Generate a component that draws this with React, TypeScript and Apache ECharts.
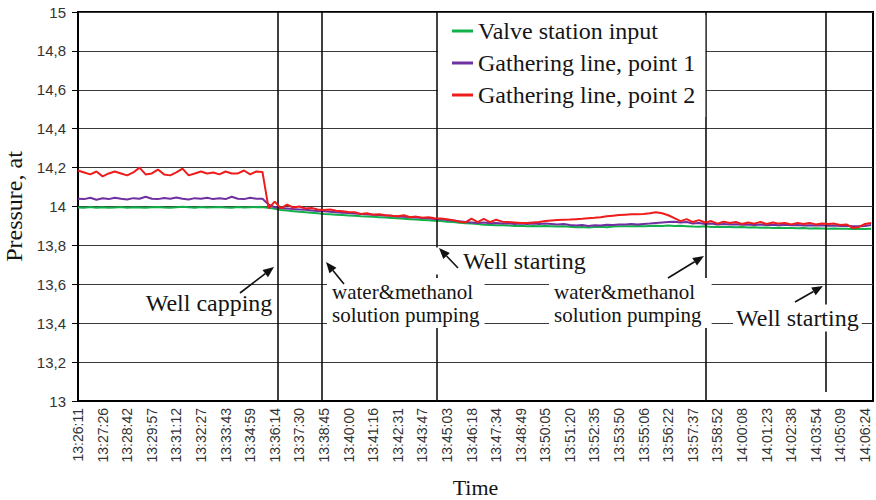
import React, { useEffect, useRef } from 'react';
import * as echarts from 'echarts';

const timeLabels = [
  '13:26:11', '13:27:26', '13:28:42', '13:29:57', '13:31:12', '13:32:27', '13:33:43', '13:34:59',
  '13:36:14', '13:37:30', '13:38:45', '13:40:00', '13:41:16', '13:42:31', '13:43:47', '13:45:03',
  '13:46:18', '13:47:34', '13:48:49', '13:50:05', '13:51:20', '13:52:35', '13:53:50', '13:55:06',
  '13:56:22', '13:57:37', '13:58:52', '14:00:08', '14:01:23', '14:02:38', '14:03:54', '14:05:09',
  '14:06:24',
];

const seriesNames = ['Valve station input', 'Gathering line, point 1', 'Gathering line, point 2'];

const valveStation = [
  13.995, 13.993, 13.997, 13.994, 13.996, 13.993, 13.995, 13.997, 13.994, 13.996, 13.995,
  13.993, 13.996, 13.998, 13.995, 13.994, 13.996, 13.999, 13.996, 13.994, 13.997, 13.995,
  13.996, 13.998, 13.995, 13.994, 13.997, 13.995, 13.996, 13.997, 13.996,
  13.994, 13.988, 13.982, 13.979, 13.976, 13.973, 13.971, 13.968, 13.965, 13.962,
  13.96, 13.958, 13.956, 13.954, 13.952, 13.95, 13.949, 13.947, 13.945, 13.943,
  13.941, 13.939, 13.937, 13.935, 13.933, 13.931, 13.929, 13.927, 13.925, 13.922,
  13.92, 13.917, 13.914, 13.912, 13.91, 13.906, 13.905, 13.903, 13.904, 13.902,
  13.9, 13.901, 13.899, 13.9, 13.898, 13.9, 13.899, 13.897, 13.898, 13.896,
  13.893, 13.895, 13.892, 13.894, 13.896, 13.893, 13.897, 13.898, 13.899, 13.898,
  13.9, 13.899, 13.9, 13.901, 13.9, 13.902, 13.9, 13.901, 13.899, 13.897,
  13.896, 13.898, 13.895, 13.896, 13.894, 13.895, 13.893, 13.894, 13.892, 13.893,
  13.891, 13.892, 13.89, 13.891, 13.889, 13.89, 13.888, 13.889, 13.887, 13.888,
  13.887, 13.886, 13.887, 13.885, 13.886, 13.884, 13.885, 13.884, 13.885,
];

const gatheringPoint1 = [
  14.04, 14.038, 14.045, 14.035, 14.042, 14.038, 14.045, 14.04, 14.036, 14.043, 14.04,
  14.05, 14.04, 14.038, 14.044, 14.04, 14.046, 14.04, 14.036, 14.043, 14.04, 14.045,
  14.038, 14.042, 14.038, 14.05, 14.04, 14.038, 14.045, 14.04, 14.04,
  14.01, 13.996, 13.992, 13.99, 13.987, 13.985, 13.983, 13.98, 13.977, 13.975,
  13.973, 13.97, 13.968, 13.966, 13.964, 13.962, 13.96, 13.958, 13.956, 13.954,
  13.952, 13.949, 13.947, 13.945, 13.943, 13.941, 13.939, 13.936, 13.934, 13.931,
  13.928, 13.924, 13.92, 13.918, 13.915, 13.918, 13.914, 13.915, 13.912, 13.914,
  13.91, 13.912, 13.91, 13.912, 13.91, 13.912, 13.91, 13.908, 13.91, 13.905,
  13.902, 13.905, 13.9, 13.903, 13.902, 13.906, 13.905, 13.908, 13.907, 13.91,
  13.908, 13.91, 13.912, 13.915, 13.918, 13.92, 13.922, 13.918, 13.92, 13.912,
  13.915, 13.91, 13.912, 13.908, 13.91, 13.907, 13.909, 13.906, 13.908, 13.905,
  13.907, 13.905, 13.906, 13.904, 13.906, 13.903, 13.905, 13.902, 13.904, 13.902,
  13.903, 13.901, 13.902, 13.9, 13.901, 13.898, 13.899, 13.9, 13.905,
];

const gatheringPoint2 = [
  14.185, 14.175, 14.165, 14.18, 14.155, 14.17, 14.18, 14.17, 14.16, 14.175, 14.2,
  14.165, 14.17, 14.19, 14.165, 14.16, 14.175, 14.195, 14.16, 14.17, 14.18, 14.17,
  14.175, 14.165, 14.18, 14.17, 14.17, 14.185, 14.165, 14.18, 14.178,
  13.99, 14.025, 13.99, 14.01, 13.995, 14.0, 13.99, 13.992, 13.985, 13.982,
  13.985, 13.978, 13.975, 13.972, 13.97, 13.962, 13.965, 13.958, 13.96, 13.955,
  13.952, 13.95, 13.955, 13.945, 13.948, 13.942, 13.945, 13.94, 13.938, 13.935,
  13.93, 13.922, 13.918, 13.938, 13.92, 13.936, 13.92, 13.932, 13.922, 13.92,
  13.918, 13.915, 13.915, 13.918, 13.92, 13.925, 13.928, 13.93, 13.932, 13.933,
  13.935, 13.937, 13.94, 13.942, 13.945, 13.95, 13.953, 13.956, 13.958, 13.96,
  13.96, 13.962, 13.965, 13.97, 13.965, 13.955, 13.94, 13.925, 13.935, 13.92,
  13.93, 13.918, 13.925, 13.912, 13.922, 13.915, 13.92, 13.91, 13.918, 13.912,
  13.92, 13.91, 13.918, 13.912, 13.915, 13.908, 13.915, 13.91, 13.915, 13.908,
  13.912, 13.91, 13.912, 13.905, 13.908, 13.89, 13.895, 13.91, 13.915,
];

// sample positions (in sample-index units) of the event lines
const eventLines = [32.5, 39.7, 58.4, 102.15];
const lastEventLine = 121.65;
const lastEventLineBottom = 13.046;

const POINTS_PER_LABEL = 4;

export default function App() {
  const ref = useRef<HTMLDivElement>(null);

  useEffect(() => {
    const chart = echarts.init(ref.current!, null, { renderer: 'svg' });
    const serif = '"Liberation Serif", "Times New Roman", serif';
    const sans = '"Liberation Sans", Arial, sans-serif';
    const toPairs = (arr: number[]) => arr.map((v, i) => [i, v]);

    const arrow = (x1: number, y1: number, x2: number, y2: number) => {
      const a = Math.atan2(y2 - y1, x2 - x1);
      const L = 11;
      const W = 4.5;
      const bx = x2 - L * Math.cos(a);
      const by = y2 - L * Math.sin(a);
      const px = -Math.sin(a) * W;
      const py = Math.cos(a) * W;
      return [
        { type: 'line', z: 120, silent: true, shape: { x1, y1, x2: bx, y2: by }, style: { stroke: '#111', lineWidth: 1.6 } },
        { type: 'polygon', z: 120, silent: true, shape: { points: [[x2, y2], [bx + px, by + py], [bx - px, by - py]] }, style: { fill: '#111' } },
      ];
    };

    const label = (text: string, x: number, y: number, size: number, padding: number[], align = 'left', vAlign = 'top') => ({
      type: 'text',
      z: 110,
      silent: true,
      x,
      y,
      style: {
        text,
        font: `${size}px ${serif}`,
        fill: '#151515',
        align,
        textAlign: align,
        verticalAlign: vAlign,
        textVerticalAlign: vAlign,
        lineHeight: 23,
        backgroundColor: '#fff',
        padding,
      },
    });

    const colors = ['#12b04a', '#7030a0', '#ee1c1c'];
    const dataSets = [valveStation, gatheringPoint1, gatheringPoint2];

    const option: any = {
      animation: false,
      backgroundColor: '#fff',
      color: colors,
      grid: {
        left: 78,
        right: 3,
        top: 12,
        bottom: 99,
        containLabel: false,
        outerBoundsMode: 'none',
        show: true,
        borderColor: '#000',
        borderWidth: 2,
        backgroundColor: 'transparent',
      },
      legend: {
        data: seriesNames,
        orient: 'vertical',
        left: 438,
        top: 15,
        padding: [4, 10, 10, 14],
        backgroundColor: '#fff',
        icon: 'rect',
        itemWidth: 21,
        itemHeight: 3,
        itemGap: 8,
        textStyle: {
          fontFamily: serif,
          fontSize: 24,
          color: '#151515',
          padding: [12, 0, 0, 0],
        },
        z: 50,
      },
      xAxis: {
        type: 'value',
        min: 0,
        max: 129.3,
        interval: POINTS_PER_LABEL,
        name: 'Time',
        nameLocation: 'middle',
        nameGap: 75,
        nameTextStyle: { fontFamily: serif, fontSize: 22, color: '#151515' },
        axisLine: { show: true, lineStyle: { color: '#000', width: 2 } },
        axisTick: { show: false },
        splitLine: { show: false },
        axisLabel: {
          rotate: 90,
          margin: 7,
          fontFamily: sans,
          fontSize: 14,
          color: '#333',
          showMaxLabel: false,
          formatter: (v: number) => {
            const k = v / POINTS_PER_LABEL;
            return Number.isInteger(k) && k < timeLabels.length ? timeLabels[k] : '';
          },
        },
      },
      yAxis: {
        type: 'value',
        min: 13,
        max: 15,
        interval: 0.2,
        name: 'Pressure, at',
        nameLocation: 'middle',
        nameRotate: 90,
        nameGap: 49,
        nameTextStyle: { fontFamily: serif, fontSize: 24, color: '#151515' },
        axisLine: { show: true, lineStyle: { color: '#000', width: 2 } },
        axisTick: { show: true, length: 6, lineStyle: { color: '#000', width: 1 } },
        splitLine: { show: true, lineStyle: { color: '#3a3a3a', width: 1 } },
        axisLabel: {
          margin: 12,
          fontFamily: sans,
          fontSize: 15,
          color: '#333',
          formatter: (v: number) => String(Number(v.toFixed(1))).replace('.', ','),
        },
      },
      series: seriesNames.map((name, k) => ({
        name,
        type: 'line',
        data: toPairs(dataSets[k]),
        showSymbol: false,
        symbol: 'none',
        lineStyle: { width: 2, color: colors[k] },
        itemStyle: { color: colors[k] },
        z: 3 + k,
        ...(k === 0
          ? {
              markLine: {
                silent: true,
                symbol: ['none', 'none'],
                label: { show: false },
                lineStyle: { color: '#111', width: 1.6, type: 'solid' },
                emphasis: { disabled: true },
                data: [
                  ...eventLines.map((x) => ({ xAxis: x })),
                  [{ coord: [lastEventLine, lastEventLineBottom] }, { coord: [lastEventLine, 15] }],
                ],
              },
            }
          : {}),
      })),
      graphic: [
        label('Well capping', 209, 303, 24, [0, 2], 'center', 'middle'),
        label('water&methanol\nsolution pumping', 327, 278, 21, [2, 5, 2, 5]),
        label('Well starting', 436, 261, 24, [2, 5, 2, 27], 'left', 'middle'),
        label('water&methanol\nsolution pumping', 549, 278, 21, [2, 10, 2, 5]),
        label('Well starting', 733, 318, 24, [2, 3, 2, 3], 'left', 'middle'),
        ...arrow(240, 293, 274, 267),
        ...arrow(344, 284, 326, 262),
        ...arrow(458, 268, 439, 248),
        ...arrow(668, 278, 704, 256),
        ...arrow(795, 302, 823, 286),
      ],
    };

    chart.setOption(option);
    return () => chart.dispose();
  }, []);

  return <div ref={ref} style={{ position: 'fixed', left: 0, top: 0, width: 876, height: 500 }} />;
}
